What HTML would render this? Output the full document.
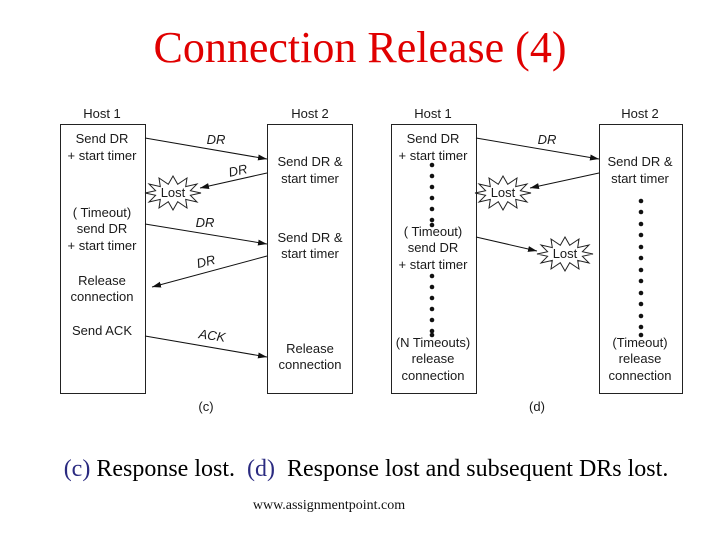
<!DOCTYPE html>
<html><head><meta charset="utf-8"><style>
html,body{margin:0;padding:0;background:#fff;width:720px;height:540px;overflow:hidden}
svg{display:block}
.t{font-family:"Liberation Sans",sans-serif;font-size:13px;fill:#1a1a1a;text-anchor:middle}
.i{font-style:italic}
</style></head><body>
<svg width="720" height="540" viewBox="0 0 720 540">
<defs>
<marker id="a" markerWidth="10" markerHeight="8" refX="9" refY="4" orient="auto" markerUnits="userSpaceOnUse">
<path d="M0,1 L9,4 L0,7 Z" fill="#111"/></marker>
<polygon id="s" points="28,0 17.4,2.3 24,9 12.7,6.4 14,15 4.7,8.7 0,17 -4.7,8.7 -14,15 -12.7,6.4 -24,9 -17.4,2.3 -28,0 -17.4,-2.3 -24,-9 -12.7,-6.4 -14,-15 -4.7,-8.7 0,-17 4.7,-8.7 14,-15 12.7,-6.4 24,-9 17.4,-2.3" fill="#fff" stroke="#222" stroke-width="1"/>
</defs>
<text x="360" y="62" font-family="Liberation Serif,serif" font-size="44" fill="#e00000" text-anchor="middle">Connection Release (4)</text>

<g stroke="#222" stroke-width="1" fill="none">
<rect x="60.5" y="124.5" width="85" height="269"/>
<rect x="267.5" y="124.5" width="85" height="269"/>
<rect x="391.5" y="124.5" width="85" height="269"/>
<rect x="599.5" y="124.5" width="83" height="269"/>
</g>
<g stroke="#111" stroke-width="1" marker-end="url(#a)">
<line x1="145" y1="138" x2="267" y2="159"/>
<line x1="267" y1="173" x2="200" y2="188"/>
<line x1="145" y1="224" x2="267" y2="244"/>
<line x1="267" y1="256" x2="152" y2="287"/>
<line x1="145" y1="336" x2="267" y2="357"/>
<line x1="476" y1="138" x2="599" y2="159"/>
<line x1="599" y1="173" x2="530" y2="188"/>
<line x1="476" y1="237" x2="537" y2="251"/>
</g>
<use href="#s" x="173" y="193"/>
<use href="#s" x="503" y="193"/>
<use href="#s" x="565" y="254"/>

<g class="t">
<text x="102" y="118">Host 1</text><text x="310" y="118">Host 2</text>
<text x="433" y="118">Host 1</text><text x="640" y="118">Host 2</text>
<text x="102" y="143">Send DR</text><text x="102" y="160">+ start timer</text>
<text x="102" y="217">( Timeout)</text><text x="102" y="233">send DR</text><text x="102" y="250">+ start timer</text>
<text x="102" y="285">Release</text><text x="102" y="301">connection</text>
<text x="102" y="335">Send ACK</text>
<text x="310" y="166">Send DR &amp;</text><text x="310" y="183">start timer</text>
<text x="310" y="242">Send DR &amp;</text><text x="310" y="258">start timer</text>
<text x="310" y="353">Release</text><text x="310" y="369">connection</text>
<text class="i" x="216" y="144">DR</text>
<text class="i" x="238" y="175" transform="rotate(-12 238 171)">DR</text>
<text class="i" x="205" y="227">DR</text>
<text class="i" x="206" y="266" transform="rotate(-14 206 262)">DR</text>
<text class="i" x="212" y="340" transform="rotate(8 212 336)">ACK</text>
<text x="173" y="197">Lost</text><text x="503" y="197">Lost</text><text x="565" y="258">Lost</text>
<text x="433" y="143">Send DR</text><text x="433" y="160">+ start timer</text>
<text x="433" y="236">( Timeout)</text><text x="433" y="252">send DR</text><text x="433" y="269">+ start timer</text>
<text x="433" y="347">(N Timeouts)</text><text x="433" y="363">release</text><text x="433" y="380">connection</text>
<text x="640" y="166">Send DR &amp;</text><text x="640" y="183">start timer</text>
<text x="640" y="347">(Timeout)</text><text x="640" y="363">release</text><text x="640" y="380">connection</text>
<text class="i" x="547" y="144">DR</text>
<text x="206" y="411">(c)</text><text x="537" y="411">(d)</text>
</g>
<g fill="#111">
<circle cx="432" cy="165" r="2.3"/><circle cx="432" cy="176" r="2.3"/><circle cx="432" cy="187" r="2.3"/><circle cx="432" cy="198" r="2.3"/><circle cx="432" cy="209" r="2.3"/><circle cx="432" cy="220" r="2.3"/><circle cx="432" cy="225" r="2.3"/>
<circle cx="432" cy="276" r="2.3"/><circle cx="432" cy="287" r="2.3"/><circle cx="432" cy="298" r="2.3"/><circle cx="432" cy="309" r="2.3"/><circle cx="432" cy="320" r="2.3"/><circle cx="432" cy="331" r="2.3"/><circle cx="432" cy="335" r="2.3"/>
<circle cx="641" cy="201" r="2.3"/><circle cx="641" cy="212" r="2.3"/><circle cx="641" cy="224" r="2.3"/><circle cx="641" cy="235" r="2.3"/><circle cx="641" cy="247" r="2.3"/><circle cx="641" cy="258" r="2.3"/><circle cx="641" cy="270" r="2.3"/><circle cx="641" cy="281" r="2.3"/><circle cx="641" cy="293" r="2.3"/><circle cx="641" cy="304" r="2.3"/><circle cx="641" cy="316" r="2.3"/><circle cx="641" cy="327" r="2.3"/><circle cx="641" cy="335" r="2.3"/>
</g>
<text x="366" y="476" font-family="Liberation Serif,serif" font-size="24" fill="#000" text-anchor="middle"><tspan fill="#2a2a80">(c)</tspan> Response lost.&#160; <tspan fill="#2a2a80">(d)</tspan>&#160; Response lost and subsequent DRs lost.</text>
<text x="329" y="509" font-family="Liberation Serif,serif" font-size="14" fill="#111" text-anchor="middle">www.assignmentpoint.com</text>
</svg>
</body></html>
